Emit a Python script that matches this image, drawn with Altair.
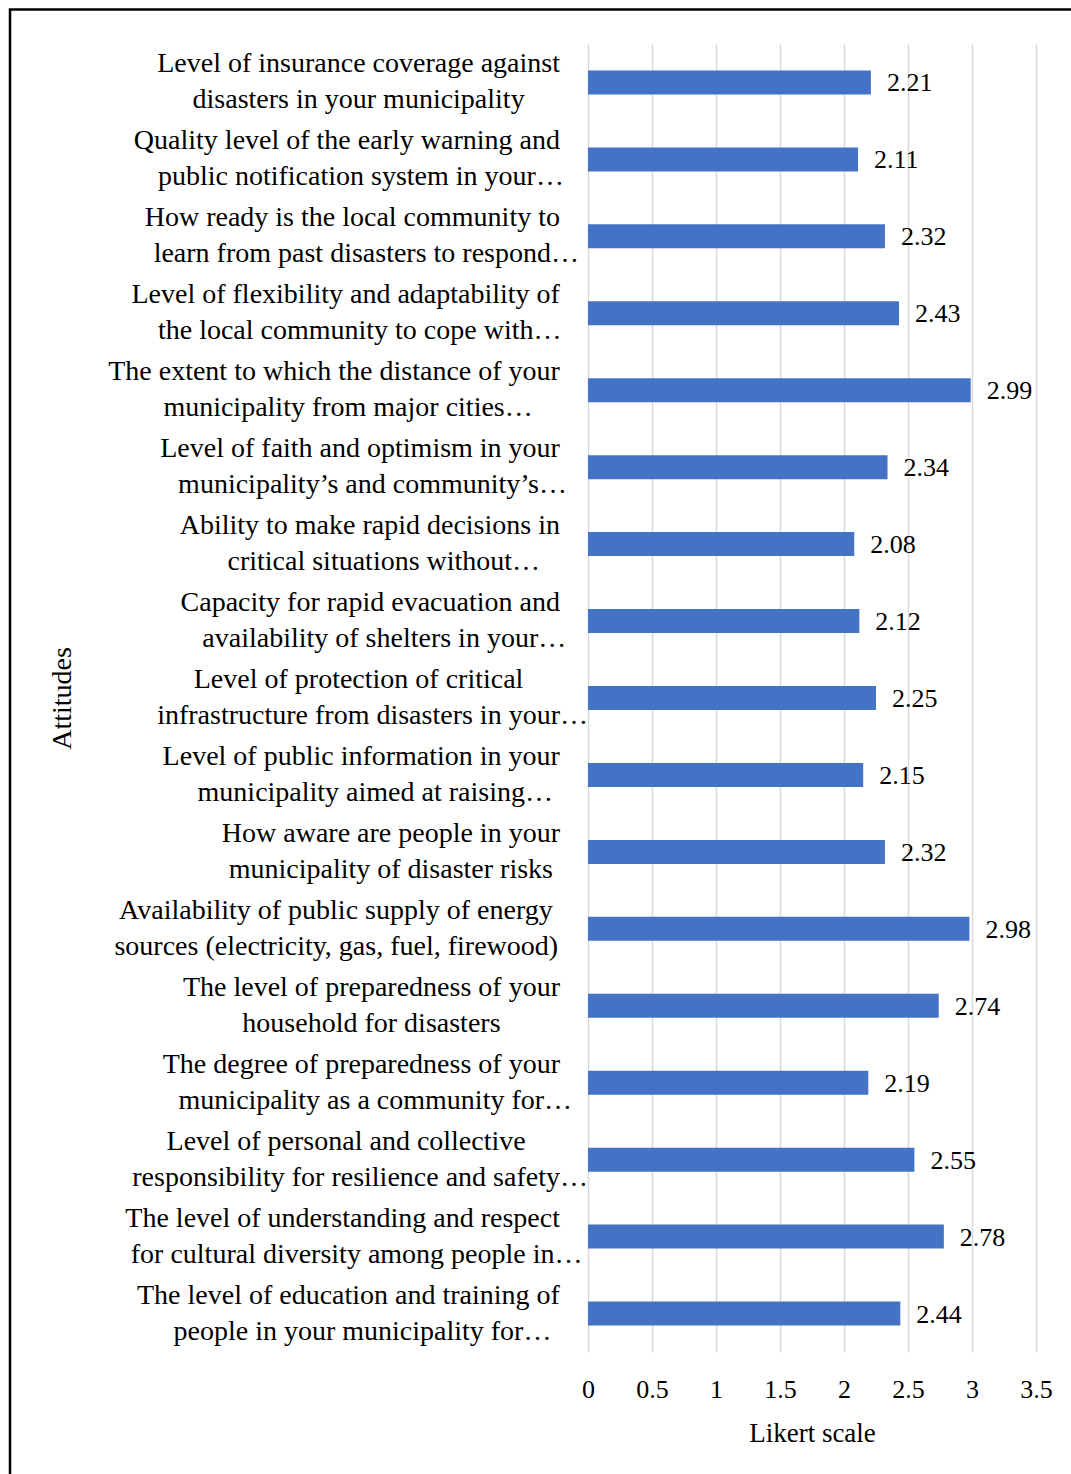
import altair as alt
import pandas as pd

# Survey items (two wrapped lines each), top to bottom, with mean Likert scores
first_lines = [
    "Level of insurance coverage against",
    "Quality level of the early warning and",
    "How ready is the local community to",
    "Level of flexibility and adaptability of",
    "The extent to which the distance of your",
    "Level of faith and optimism in your",
    "Ability to make rapid decisions in",
    "Capacity for rapid evacuation and",
    "Level of protection of critical",
    "Level of public information in your",
    "How aware are people in your",
    "Availability of public supply of energy",
    "The level of preparedness of your",
    "The degree of preparedness of your",
    "Level of personal and collective",
    "The level of understanding and respect",
    "The level of education and training of",
]
second_lines = [
    "disasters in your municipality",
    "public notification system in your…",
    "learn from past disasters to respond…",
    "the local community to cope with…",
    "municipality from major cities…",
    "municipality’s and community’s…",
    "critical situations without…",
    "availability of shelters in your…",
    "infrastructure from disasters in your…",
    "municipality aimed at raising…",
    "municipality of disaster risks",
    "sources (electricity, gas, fuel, firewood)",
    "household for disasters",
    "municipality as a community for…",
    "responsibility for resilience and safety…",
    "for cultural diversity among people in…",
    "people in your municipality for…",
]
scores = [2.21, 2.11, 2.32, 2.43, 2.99, 2.34, 2.08, 2.12, 2.25, 2.15,
          2.32, 2.98, 2.74, 2.19, 2.55, 2.78, 2.44]
x_ticks = [0, 0.5, 1, 1.5, 2, 2.5, 3, 3.5]

categories = [a + " " + b for a, b in zip(first_lines, second_lines)]

FONT = "Liberation Serif"
LABEL_SIZE = 28
NUM_SIZE = 26
PLOT_W = 448
PLOT_H = 1308
LABEL_RIGHT = -28  # right edge of the wrapped label blocks, px from the axis

# Advance widths of the serif face (1/1000 em), used to lay out the
# wrapped labels: each block is right-aligned, its lines centred in it.
ADV = dict(zip("abcdefghijklmnopqrstuvwxyz",
               [444, 500, 444, 500, 444, 333, 500, 500, 278, 278, 500, 278, 778,
                500, 500, 500, 500, 333, 389, 278, 500, 500, 722, 500, 500, 444]))
ADV.update(zip("ABCDEFGHIJKLMNOPQRSTUVWXYZ",
               [722, 667, 667, 722, 611, 556, 722, 722, 333, 389, 722, 611, 889,
                722, 722, 556, 722, 667, 556, 611, 722, 722, 944, 722, 722, 611]))
ADV.update({" ": 250, ",": 250, ".": 250, "(": 333, ")": 333, "’": 333,
            "'": 333, "-": 333, "…": 1000})


def text_width(s, size=LABEL_SIZE):
    return sum(ADV.get(ch, 500) for ch in s) * size / 1000


rows = []
for cat, l1, l2 in zip(categories, first_lines, second_lines):
    core = [l1.rstrip("…"), l2.rstrip("…")]
    block = max(text_width(c) for c in core)
    centre = LABEL_RIGHT - block / 2
    for i, (line, c) in enumerate(zip([l1, l2], core)):
        rows.append({"category": cat, "line": i, "text": line,
                     "lx": centre - text_width(c) / 2})
label_df = pd.DataFrame(rows)
bar_df = pd.DataFrame({"category": categories, "score": scores})

y_enc = alt.Y(
    "category:N",
    sort=categories,
    scale=alt.Scale(paddingInner=0, paddingOuter=0),
    axis=alt.Axis(
        labels=False, ticks=False, domain=False, grid=False,
        title="Attitudes", titleFont=FONT, titleFontSize=28,
        titleFontWeight="normal", titleColor="#000000",
        titleAngle=270, titleAlign="center", titleBaseline="middle",
        titleX=-526, titleY=PLOT_H / 2,
    ),
)

x_enc = alt.X(
    "score:Q",
    scale=alt.Scale(domain=[0, 3.5], nice=False, zero=True),
    axis=alt.Axis(
        values=x_ticks, format="~g", title="Likert scale",
        labelFont=FONT, labelFontSize=NUM_SIZE, labelColor="#000000",
        labelPadding=24, labelFlush=False, ticks=False, domain=False,
        grid=True, gridColor="#d9d9d9", gridWidth=1.5,
        titleFont=FONT, titleFontSize=27, titleFontWeight="normal",
        titleColor="#000000", titlePadding=18,
    ),
)

bars = alt.Chart(bar_df).mark_bar(size=24, color="#4472C4").encode(
    x=x_enc, y=y_enc
)

values = alt.Chart(bar_df).mark_text(
    align="left", baseline="middle", dx=16, dy=1,
    font=FONT, fontSize=NUM_SIZE, color="#000000",
).encode(
    x="score:Q",
    y=alt.Y("category:N", sort=categories),
    text=alt.Text("score:Q", format=".2f"),
)

line_layers = []
for idx, offset in [(0, -18), (1, 18)]:
    line_layers.append(
        alt.Chart(label_df[label_df["line"] == idx]).mark_text(
            align="left", baseline="middle", dy=offset,
            font=FONT, fontSize=LABEL_SIZE, color="#000000",
        ).encode(
            x=alt.X("lx:Q", scale=None),
            y=alt.Y("category:N", sort=categories),
            text="text:N",
        )
    )

frame = alt.Chart(pd.DataFrame({"k": [0]})).mark_rect(
    fill=None, stroke="#000000", strokeWidth=2.5
).encode(
    x=alt.value(-578), x2=alt.value(PLOT_W + 200),
    y=alt.value(-34.5), y2=alt.value(PLOT_H + 300),
)

chart = alt.layer(bars, values, *line_layers, frame).properties(
    width=PLOT_W,
    height=PLOT_H,
    background="#ffffff",
    autosize=alt.AutoSizeParams(type="none"),
    padding={"left": 588, "top": 44, "right": 35, "bottom": 122},
).configure_view(strokeWidth=0, stroke="transparent")

chart.save("out.html", embed_options={"renderer": "svg", "actions": False})
